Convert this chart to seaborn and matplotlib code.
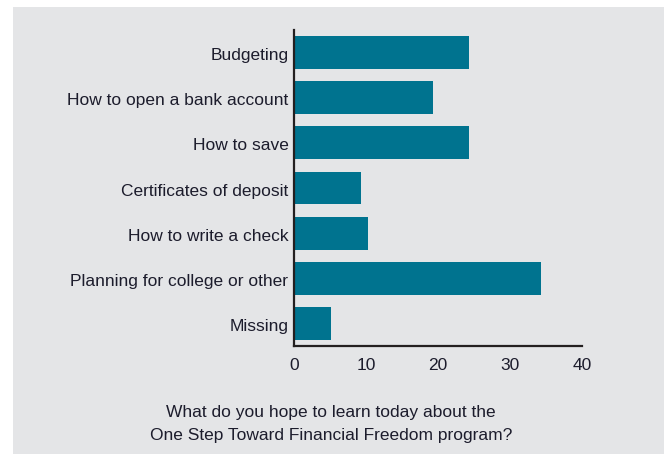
import matplotlib
matplotlib.use("Agg")
import matplotlib.pyplot as plt
from matplotlib.patches import Rectangle
from matplotlib.transforms import ScaledTranslation
import seaborn as sns
import pandas as pd

# Survey responses
topics = [
    "Budgeting",
    "How to open a bank account",
    "How to save",
    "Certificates of deposit",
    "How to write a check",
    "Planning for college or other",
    "Missing",
]
counts = [24.3, 19.3, 24.3, 9.3, 10.3, 34.3, 5.2]
x_ticks = [0, 10, 20, 30, 40]
caption = "What do you hope to learn today about the\nOne Step Toward Financial Freedom program?"

sns.set_theme(style="white")
plt.rcParams["font.family"] = ["Liberation Sans", "DejaVu Sans"]

bar_color = "#00738f"
text_color = "#1c1c2c"
panel_color = "#e4e5e7"

W, H = 664, 454
fig = plt.figure(figsize=(W / 100, H / 100), dpi=100, facecolor="white")
fig.patches.append(Rectangle((13 / W, 0), 1 - 13 / W, 1 - 7 / H,
                             transform=fig.transFigure, facecolor=panel_color,
                             edgecolor="none", zorder=-10))

ax = fig.add_axes([294 / W, 1 - 346 / H, (582 - 294) / W, (346 - 30) / H])
ax.set_facecolor("none")

df = pd.DataFrame({"topic": topics, "count": counts})
sns.barplot(data=df, x="count", y="topic", color=bar_color, saturation=1,
            width=0.73, orient="h", linewidth=0, edgecolor="none", ax=ax)

ax.set_xlim(0, 40)
ax.set_ylim(6.5, -0.5)
ax.set_xticks(x_ticks)
ax.set_xticklabels([str(t) for t in x_ticks])
ax.set_xlabel("")
ax.set_ylabel("")
ax.tick_params(axis="both", length=0, labelsize=12.5, colors=text_color)
ax.tick_params(axis="x", pad=9)
ax.tick_params(axis="y", pad=4)

# nudge category labels slightly downward
shift = ScaledTranslation(0, -1.5 / 100, fig.dpi_scale_trans)
for lbl in ax.get_yticklabels():
    lbl.set_transform(lbl.get_transform() + shift)

for side in ("top", "right"):
    ax.spines[side].set_visible(False)
for side in ("left", "bottom"):
    ax.spines[side].set_color("#231f20")
    ax.spines[side].set_linewidth(1.6)

fig.text(331 / W, 1 - 424 / H, caption, ha="center", va="center",
         fontsize=12.5, color=text_color, linespacing=1.65)

fig.savefig("out.png", dpi=100, facecolor="white")
